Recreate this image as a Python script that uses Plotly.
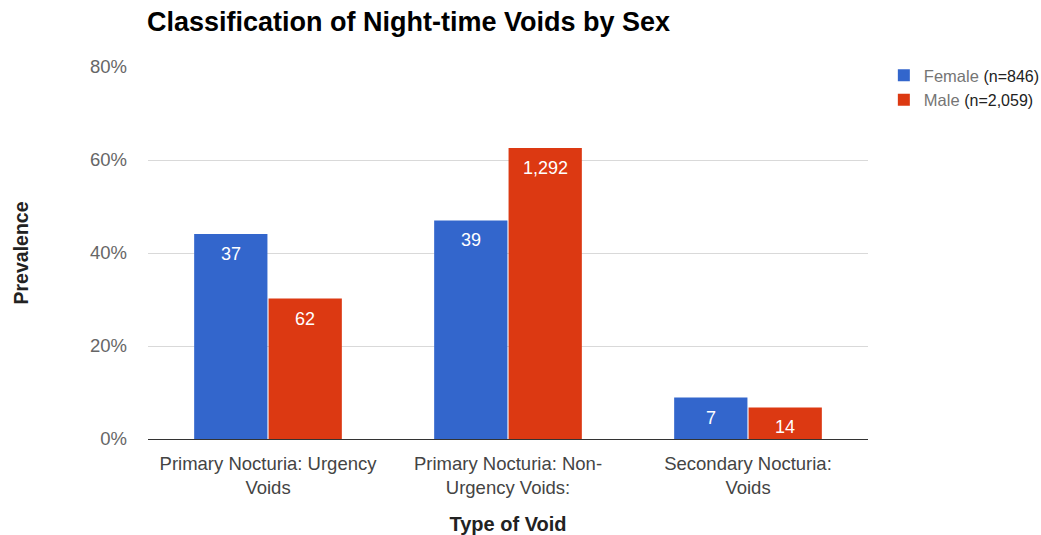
import plotly.graph_objects as go

categories = ["Primary Nocturia: Urgency<br>Voids", "Primary Nocturia: Non-<br>Urgency Voids:", "Secondary Nocturia:<br>Voids"]
female_pct = [44.1, 47.0, 8.9]
male_pct = [30.2, 62.6, 6.8]
female_counts = ["37", "39", "7"]
male_counts = ["62", "1,292", "14"]
y_ticks = [0, 20, 40, 60, 80]
y_tick_labels = ["0%", "20%", "40%", "60%", "80%"]

FONT = "Liberation Sans, Arial, sans-serif"
W, H = 1041, 535
BAR_OFFSET_PX = 37.2   # half of one bar slot inside a group
LABEL_DROP_PX = 20     # label centre below bar top

fig = go.Figure()
fig.add_trace(go.Bar(
    x=categories, y=female_pct,
    name="Female <span style='color:#222222;font-size:16px'>(n=846)</span>",
    marker=dict(color="#3366cc", line=dict(width=0)),
    hoverinfo="skip",
))
fig.add_trace(go.Bar(
    x=categories, y=male_pct,
    name="Male <span style='color:#222222;font-size:16px'>(n=2,059)</span>",
    marker=dict(color="#dc3912", line=dict(width=0)),
    hoverinfo="skip",
))

for vals, labels, shift in ((female_pct, female_counts, -BAR_OFFSET_PX),
                            (male_pct, male_counts, BAR_OFFSET_PX)):
    for cat, v, lab in zip(categories, vals, labels):
        fig.add_annotation(
            x=cat, y=v, xref="x", yref="y", text=lab, showarrow=False,
            xshift=shift, yshift=-LABEL_DROP_PX, yanchor="middle", xanchor="center",
            font=dict(color="white", size=18, family=FONT),
        )

fig.update_layout(
    width=W, height=H,
    margin=dict(l=148, r=173, t=67, b=96, autoexpand=False),
    paper_bgcolor="white", plot_bgcolor="white",
    barmode="group", bargap=0.38, bargroupgap=0.015,
    title=dict(text="<b>Classification of Night-time Voids by Sex</b>",
               x=147/W, xanchor="left", y=1-22/H, yanchor="middle",
               font=dict(size=27, color="#000000", family=FONT)),
    font=dict(family=FONT, color="#444444"),
    legend=dict(x=1.022, xanchor="left", y=1.024, yanchor="top",
                font=dict(size=16.5, color="#757575", family=FONT)),
    xaxis=dict(
        title=dict(text="<b>Type of Void</b>", font=dict(size=20, color="#222222"), standoff=20),
        tickfont=dict(size=18.5, color="#444444"),
        showline=True, linecolor="#333333", linewidth=1,
        ticks="", ticklabelstandoff=8, automargin=False,
    ),
    yaxis=dict(
        title=dict(text="<b>Prevalence</b>", font=dict(size=19.5, color="#222222"), standoff=56),
        range=[0, 80], tickvals=y_ticks, ticktext=y_tick_labels,
        tickfont=dict(size=18.5, color="#666666"),
        showgrid=True, gridcolor="#d9d9d9", gridwidth=1,
        zeroline=False, ticks="", ticklabelstandoff=20, automargin=False,
    ),
)

fig.write_html("out.html", config={"displayModeBar": False},
               post_script="document.body.style.margin='0';")
